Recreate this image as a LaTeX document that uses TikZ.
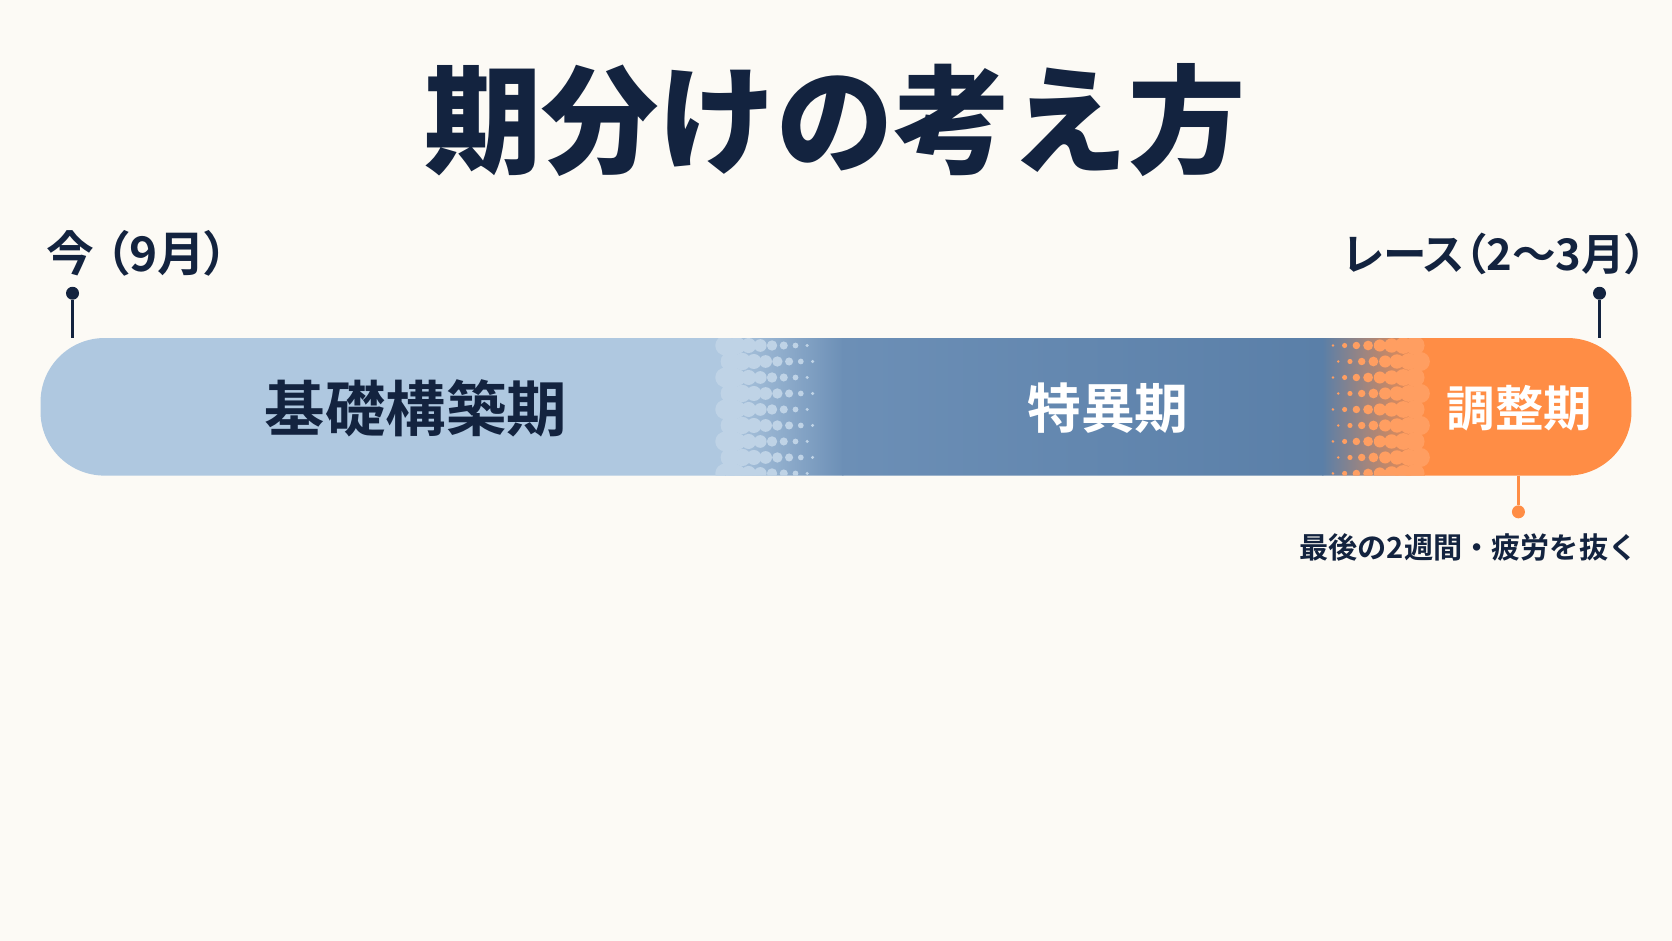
\documentclass[tikz,border=0pt]{standalone}
\usepackage{fontspec}
\setmainfont{Noto Sans CJK JP}
\newfontfamily\jpheavy{Noto Sans CJK JP Black}
\newfontfamily\jpbold{Noto Sans CJK JP Bold}
\newfontfamily\jpboldp[RawFeature=+palt]{Noto Sans CJK JP Bold}
\usetikzlibrary{positioning}
\definecolor{paper}{HTML}{FCFAF5}
\definecolor{navy}{HTML}{13233F}
\definecolor{basecol}{HTML}{AFC8E0}
\definecolor{midcol}{HTML}{6C8FB6}
\definecolor{specol}{HTML}{5A7FA8}
\definecolor{tapercol}{HTML}{FF8D45}
\tikzset{
  dot/.style={circle,fill=#1,inner sep=0pt,minimum size=0.13cm},
  dot/.default=navy,
  tick/.style={line width=1.1pt,#1},
  tick/.default=navy,
  lbl/.style={text=navy,font=\jpboldp\fontsize{#1}{#1}\selectfont,inner sep=0pt},
  phase/.style={font=\jpbold\fontsize{#1}{#1}\selectfont,inner sep=0pt}
}

\begin{document}
\begin{tikzpicture}[x=0.010663cm,y=-0.010663cm]
  \fill[paper] (0,0) rectangle (1568,882);
  \useasboundingbox (0,0) rectangle (1568,882);
  \node[text=navy,font=\jpheavy\fontsize{33.4}{33.4}\selectfont] (title) at (783,113) {期分けの考え方};

  \begin{scope}
    \clip[rounded corners=0.64cm] (38,317) rectangle (1530,446);
    \fill[basecol] (30,310) rectangle (681,450);
    \shade[left color=basecol,right color=midcol] (680,310) rectangle (791,450);
    \shade[left color=midcol,right color=specol] (790,310) rectangle (1241,450);
    \shade[left color=specol,right color=tapercol] (1240,310) rectangle (1336,450);
    \fill[tapercol] (1335,310) rectangle (1540,450);
    \foreach \i in {0,...,7}
      \foreach \j in {0,...,8}
        \fill[basecol!80!white] ({680+\i*11+mod(\j,2)*5},{324+\j*15}) circle ({2.8pt-\i*0.33pt});
    \foreach \i in {0,...,7}
      \foreach \j in {0,...,8}
        \fill[tapercol!85!white] ({1250+\i*11+mod(\j,2)*5},{324+\j*15}) circle ({0.4pt+\i*0.33pt});
  \end{scope}

  \node[phase=17.2,text=navy] (base) at (390,383) {基礎構築期};
  \node[phase=15.3,text=white] (spec) at (1039,383) {特異期};
  \node[phase=13.8,text=white] (taper) at (1425,383) {調整期};

  \node[dot] (nowdot) at (68,275) {};
  \coordinate (nowtick) at (68,317);
  \draw[tick] (nowdot) -- (nowtick);
  \node[lbl=13.6,anchor=west] (nowlbl) at (43,238) {今 （9月）};

  \node[dot] (racedot) at (1500,275) {};
  \coordinate (racetick) at (1500,317);
  \draw[tick] (racedot) -- (racetick);
  \node[lbl=12.4,anchor=east] (racelbl) at (1545,238) {レース（2〜3月）};

  \coordinate (tapertick) at (1424,446);
  \node[dot=tapercol] (taperdot) at (1424,480) {};
  \draw[tick=tapercol] (tapertick) -- (taperdot);
  \node[text=navy,font=\jpbold\fontsize{8.3}{8.3}\selectfont,below=0.14cm of taperdot,xshift=-0.5cm,inner sep=0pt] (taperlbl) {最後の2週間・疲労を抜く};
\end{tikzpicture}
\end{document}
